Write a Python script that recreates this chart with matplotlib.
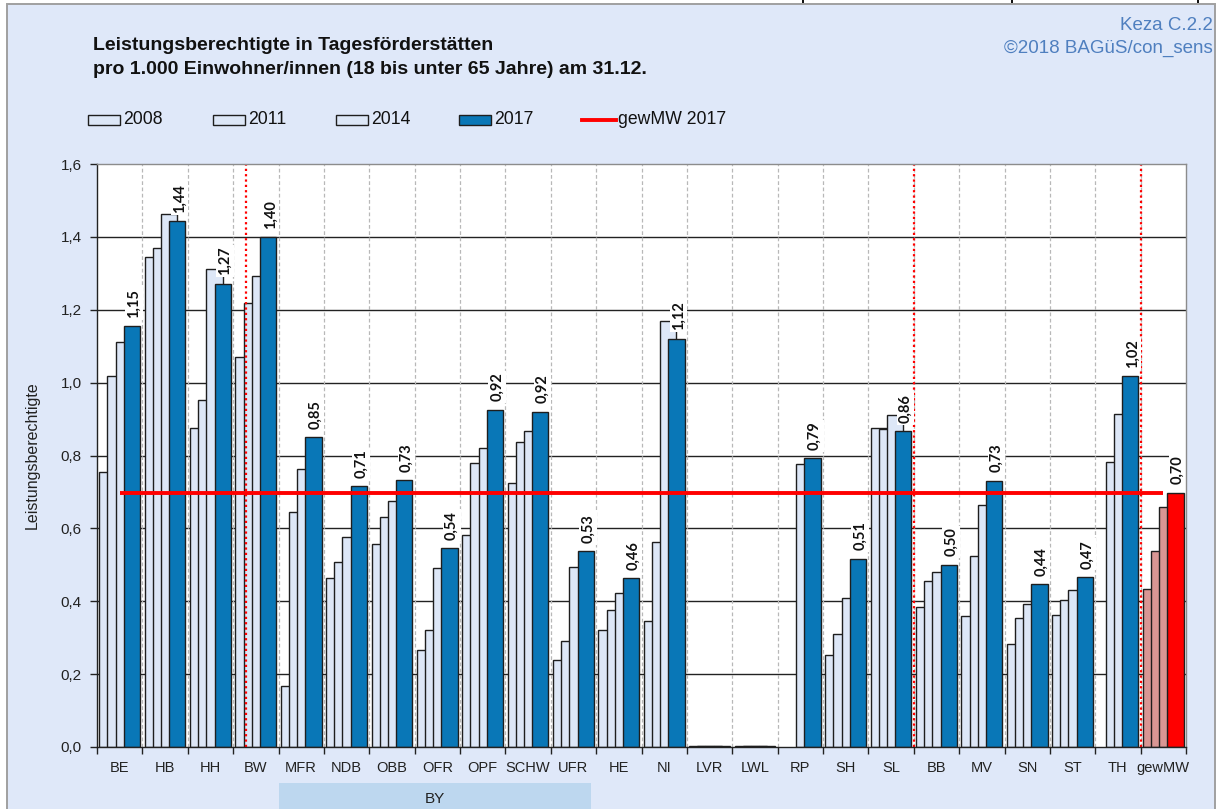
import numpy as np
import matplotlib
matplotlib.use("Agg")
import matplotlib.pyplot as plt
from matplotlib.patches import Rectangle
from matplotlib.lines import Line2D
from matplotlib.ticker import FuncFormatter

# ---------------- data ----------------
categories = ["BE", "HB", "HH", "BW", "MFR", "NDB", "OBB", "OFR", "OPF", "SCHW", "UFR",
              "HE", "NI", "LVR", "LWL", "RP", "SH", "SL", "BB", "MV", "SN", "ST", "TH", "gewMW"]
nan = np.nan
v2008 = [0.755, 1.346, 0.876, 1.071, 0.168, 0.464, 0.558, 0.266, 0.581, 0.725, 0.238,
         0.320, 0.346, 0.004, 0.004, nan, 0.253, 0.876, 0.383, 0.359, 0.282, 0.362, nan, 0.433]
v2011 = [1.018, 1.370, 0.951, 1.218, 0.645, 0.507, 0.632, 0.320, 0.779, 0.837, 0.292,
         0.377, 0.563, 0.004, 0.004, nan, 0.309, 0.873, 0.456, 0.525, 0.353, 0.403, 0.783, 0.538]
v2014 = [1.111, 1.464, 1.313, 1.292, 0.763, 0.576, 0.676, 0.490, 0.820, 0.868, 0.494,
         0.422, 1.168, 0.004, 0.004, 0.776, 0.409, 0.910, 0.480, 0.665, 0.392, 0.430, 0.913, 0.660]
v2017 = [1.155, 1.443, 1.272, 1.400, 0.850, 0.715, 0.733, 0.546, 0.926, 0.920, 0.537,
         0.464, 1.121, 0.004, 0.004, 0.792, 0.517, 0.866, 0.500, 0.731, 0.446, 0.467, 1.017, 0.698]
labels2017 = ["1,15", "1,44", "1,27", "1,40", "0,85", "0,71", "0,73", "0,54", "0,92", "0,92", "0,53",
              "0,46", "1,12", "", "", "0,79", "0,51", "0,86", "0,50", "0,73", "0,44", "0,47", "1,02", "0,70"]
mean2017 = 0.698
series_names = ["2008", "2011", "2014", "2017"]
line_name = "gewMW 2017"
yticks = [0.0, 0.2, 0.4, 0.6, 0.8, 1.0, 1.2, 1.4, 1.6]
separators = [2.784, 17.5, 22.5]
by_label = "BY"
title1 = "Leistungsberechtigte in Tagesförderstätten"
title2 = "pro 1.000 Einwohner/innen (18 bis unter 65 Jahre) am 31.12."
corner1 = "Keza C.2.2"
corner2 = "©2018 BAGüS/con_sens"
ylabel = "Leistungsberechtigte"

# ---------------- style ----------------
W, H = 1218, 809
BG = "#dfe8f9"
LIGHT = "#dde7f7"
DARK = "#0977b7"
ROSE = "#d99694"
RED = "#ff0000"
EDGE = "#1e1e1e"
CORNER = "#4f7fbf"
FONT = "Liberation Sans"

fig = plt.figure(figsize=(W / 100, H / 100), dpi=100)
fig.patch.set_facecolor("white")


def fx(px):
    return px / W


def fy(py):
    return 1 - py / H


# frame background
fig.patches.append(Rectangle((fx(7), fy(812)), fx(1215) - fx(7), fy(4) - fy(812),
                             transform=fig.transFigure, facecolor=BG, edgecolor="#a0a0a0",
                             linewidth=1.4, zorder=-10))
# residual marks in the top strip
for mx in [803, 1012, 1198]:
    fig.patches.append(Rectangle((fx(mx - 1), fy(3)), fx(2), 3 / H, transform=fig.transFigure,
                                 facecolor="#111111", edgecolor="none", zorder=-9))
# BY band
fig.patches.append(Rectangle((fx(279), fy(812)), fx(591) - fx(279), fy(783) - fy(812),
                             transform=fig.transFigure, facecolor="#bdd7ef", edgecolor="none",
                             zorder=-8))
fig.text(fx(435), fy(799), by_label, ha="center", va="center", fontsize=11,
         family=FONT, color="#222222")

ax_l, ax_r, ax_t, ax_b = 97, 1186, 164, 747
ax = fig.add_axes([fx(ax_l), fy(ax_b), fx(ax_r) - fx(ax_l), fy(ax_t) - fy(ax_b)])
ax.set_facecolor("white")
ax.set_xlim(-0.5, len(categories) - 0.5)
ax.set_ylim(0, 1.6)

x = np.arange(len(categories))
width = 0.36
offsets = [-0.27, -0.09, 0.09, 0.27]
all_series = [v2008, v2011, v2014, v2017]
for k, vals in enumerate(all_series):
    vals = np.array(vals, dtype=float)
    colors = []
    for i in range(len(categories)):
        if categories[i] == "gewMW":
            colors.append(RED if k == 3 else ROSE)
        else:
            colors.append(DARK if k == 3 else LIGHT)
    mask = ~np.isnan(vals)
    ax.bar(x[mask] + offsets[k], vals[mask], width=width,
           color=[c for c, m in zip(colors, mask) if m],
           edgecolor=EDGE, linewidth=1.0, zorder=3 + k * 0.1)

# gridlines
for yv in yticks[1:-1]:
    ax.axhline(yv, color="#222222", linewidth=1.0, zorder=1)
for b in np.arange(0.5, len(categories) - 0.5, 1):
    ax.axvline(b, color="#b8b8b8", linewidth=0.9, linestyle=(0, (3, 2)), zorder=1)

# separators
for s in separators:
    ax.axvline(s, color=RED, linewidth=1.6, linestyle=(0, (1, 1.4)), zorder=5)

# mean line
ax.plot([x[0], x[-1]], [mean2017, mean2017], color=RED, linewidth=2.8, zorder=6,
        solid_capstyle="butt")

# data labels
for i, lab in enumerate(labels2017):
    if not lab:
        continue
    ax.annotate(lab, (x[i] + offsets[3] + 0.05, v2017[i]), xytext=(0, 6), textcoords="offset points",
                rotation=90, ha="center", va="bottom", fontsize=10.5, fontweight="bold",
                family="Lato", color="#111111", zorder=7, annotation_clip=False,
                bbox=dict(boxstyle="square,pad=0.12", facecolor="white", edgecolor="none"))

# axes styling
ax.spines["left"].set_color("#222222")
ax.spines["bottom"].set_color("#222222")
ax.spines["top"].set_color("#8c8c8c")
ax.spines["right"].set_color("#8c8c8c")
for sp in ax.spines.values():
    sp.set_linewidth(1.0)
    sp.set_zorder(8)

ax.set_yticks(yticks)
ax.yaxis.set_major_formatter(FuncFormatter(lambda v, p: f"{v:.1f}".replace(".", ",")))
ax.tick_params(axis="y", direction="out", length=5, width=1, pad=6, labelsize=11,
               colors="#222222")
ax.set_xticks(x)
ax.set_xticklabels(categories)
ax.tick_params(axis="x", which="major", length=0, pad=10, labelsize=10.5, colors="#222222")
ax.set_xticks(np.arange(-0.5, len(categories), 1), minor=True)
ax.tick_params(axis="x", which="minor", direction="out", length=5, width=1, colors="#222222")
for t in ax.get_xticklabels() + ax.get_yticklabels():
    t.set_family(FONT)

fig.text(fx(32), fy(455), ylabel, rotation=90, ha="center", va="center", fontsize=11.5,
         family=FONT, color="#222222")

# titles
fig.text(fx(93), fy(46), title1, ha="left", va="center", fontsize=14, fontweight="bold",
         family=FONT, color="#111111")
fig.text(fx(93), fy(70), title2, ha="left", va="center", fontsize=14, fontweight="bold",
         family=FONT, color="#111111")
fig.text(fx(1213), fy(26), corner1, ha="right", va="center", fontsize=13.5,
         family=FONT, color=CORNER)
fig.text(fx(1213), fy(48), corner2, ha="right", va="center", fontsize=13.5,
         family=FONT, color=CORNER)

# legend (manual)
leg_y = 120
leg_items = [(88, series_names[0], LIGHT), (213, series_names[1], LIGHT),
             (336, series_names[2], LIGHT), (459, series_names[3], DARK)]
for lx, name, col in leg_items:
    fig.patches.append(Rectangle((fx(lx), fy(leg_y + 5)), fx(32), 10 / H,
                                 transform=fig.transFigure, facecolor=col, edgecolor=EDGE,
                                 linewidth=1.0, zorder=3))
    fig.text(fx(lx + 35), fy(leg_y), name, ha="left", va="center", fontsize=12.7,
             family=FONT, color="#111111")
fig.lines.append(Line2D([fx(582), fx(616)], [fy(leg_y), fy(leg_y)], transform=fig.transFigure,
                        color=RED, linewidth=2.8))
fig.text(fx(618), fy(leg_y), line_name, ha="left", va="center", fontsize=12.7,
         family=FONT, color="#111111")

fig.savefig("out.png", dpi=100, facecolor=fig.get_facecolor())
